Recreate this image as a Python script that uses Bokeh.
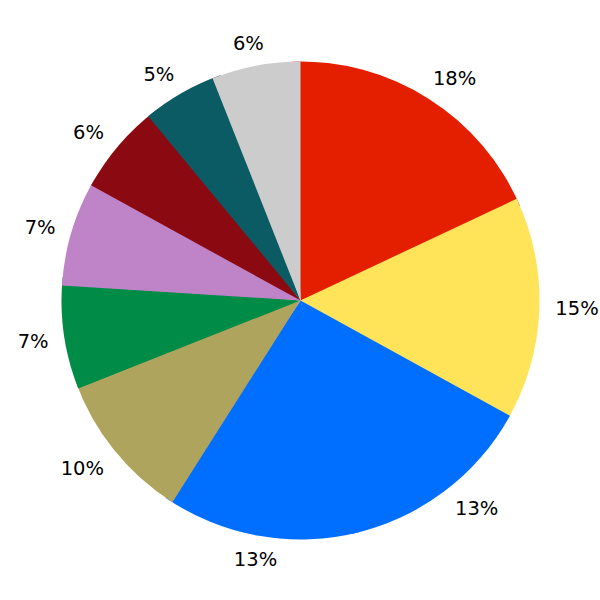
import math
from bokeh.plotting import figure
from bokeh.models import Range1d, ColumnDataSource
from bokeh.core.properties import value
from bokeh.embed import file_html
from bokeh.resources import INLINE

# Data (clockwise from 12 o'clock)
labels = ["18%", "15%", "13%", "13%", "10%", "7%", "7%", "6%", "5%", "6%"]
shares = [18, 15, 13, 13, 10, 7, 7, 6, 5, 6]
colors = ["#E41F00", "#FFE45A", "#006EFF", "#006EFF", "#AFA45E",
          "#008C46", "#BF83C8", "#8B0A12", "#0B5B64", "#CCCCCC"]

R = 239.0
LABEL_R = 255.0
FS = 19.5
OVERLAP = math.radians(2.0)  # hidden under the next wedge; avoids seams

total = float(sum(shares))
n = len(shares)
starts, ends, lx, ly, xo, yo = [], [], [], [], [], []
cum = 0.0
for i, (s, lab) in enumerate(zip(shares, labels)):
    a0 = cum / total * 2 * math.pi
    cum += s
    a1 = cum / total * 2 * math.pi
    e0 = a0 - (OVERLAP if i == 0 else 0.0)
    e1 = a1 + (OVERLAP if i < n - 1 else 0.0)
    starts.append(math.pi / 2 - e1)
    ends.append(math.pi / 2 - e0)
    mid = (a0 + a1) / 2
    lx.append(LABEL_R * math.sin(mid))
    ly.append(LABEL_R * math.cos(mid))
    n_digits = len(lab) - 1
    w = FS * (0.636 * n_digits + 0.95)
    h = 14.0
    fx = max(-1.0, min(1.0, 1.5 * math.sin(mid)))
    fy = max(-1.0, min(1.0, 1.2 * math.cos(mid)))
    xo.append(w / 2 * fx)
    yo.append(-h / 2 * fy)

src = ColumnDataSource(dict(start=starts, end=ends, color=colors))
lsrc = ColumnDataSource(dict(x=lx, y=ly, text=labels, xo=xo, yo=yo))

p = figure(width=600, height=600, output_backend="svg", toolbar_location=None,
           x_range=Range1d(-300, 300), y_range=Range1d(-300, 300),
           min_border=0)
p.axis.visible = False
p.grid.visible = False
p.outline_line_color = None
p.background_fill_color = "white"
p.border_fill_color = "white"

p.wedge(x=0, y=0, radius=R, start_angle="start", end_angle="end",
        fill_color="color", line_color=None, source=src)

p.text(x="x", y="y", text="text", x_offset="xo", y_offset="yo", source=lsrc,
       text_align="center", text_baseline="middle",
       text_font=value("DejaVu Sans"), text_font_size="19.5px",
       text_color="black")

open("out.html", "w").write(file_html(p, INLINE))
